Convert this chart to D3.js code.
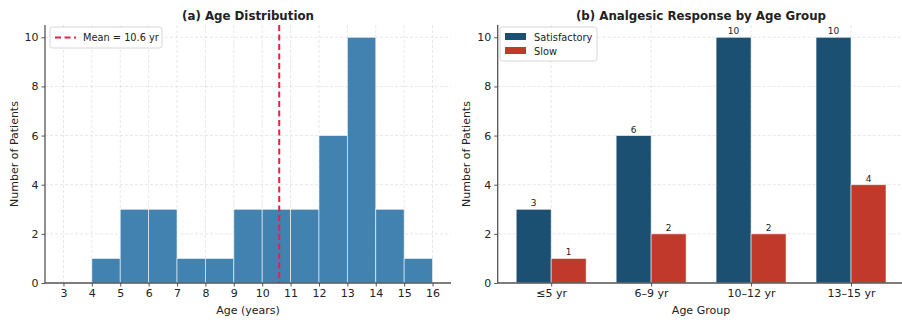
<!DOCTYPE html>
<html>
<head>
<meta charset="utf-8">
<title>Age / Analgesic response</title>
<script src="https://cdn.jsdelivr.net/npm/d3@7"></script>
<style>
  body { margin: 0; background: #fff; }
  text { font-family: "DejaVu Sans", sans-serif; fill: #222; }
</style>
</head>
<body>
<script>
// ---- data ----
var binEdges = [3, 4, 5, 6, 7, 8, 9, 10, 11, 12, 13, 14, 15, 16];
var binCounts = [0, 1, 3, 3, 1, 1, 3, 3, 3, 6, 10, 3, 1];
var meanAge = 10.6;
var ageTicks = [3, 4, 5, 6, 7, 8, 9, 10, 11, 12, 13, 14, 15, 16];

var groups = ["≤5 yr", "6–9 yr", "10–12 yr", "13–15 yr"];
var satisfactory = [3, 6, 10, 10];
var slow = [1, 2, 2, 4];
var seriesNames = ["Satisfactory", "Slow"];
var yTicks = [0, 2, 4, 6, 8, 10];

var colHist = "#4282b0", colSat = "#1b5073", colSlow = "#c0392b", colMean = "#e8213f";

var W = 902, H = 323;
var yTop = 25, yBot = 283;

var svg = d3.select("body").append("svg").attr("width", W).attr("height", H);

var y = d3.scaleLinear().domain([0, 10.5]).range([yBot, yTop]);

function grid(g, x0, x1, xs) {
  g.selectAll(".hg").data(yTicks).enter().append("line")
    .attr("x1", x0).attr("x2", x1)
    .attr("y1", function(d){ return y(d); }).attr("y2", function(d){ return y(d); })
    .attr("stroke", "#ddd").attr("stroke-width", 0.7).attr("stroke-dasharray", "3,2");
  g.selectAll(".vg").data(xs).enter().append("line")
    .attr("x1", function(d){ return d; }).attr("x2", function(d){ return d; })
    .attr("y1", yTop).attr("y2", yBot)
    .attr("stroke", "#ddd").attr("stroke-width", 0.7).attr("stroke-dasharray", "3,2");
}

function axes(g, x0, xAxis) {
  var ya = g.append("g").attr("transform", "translate(" + x0 + ",0)")
    .call(d3.axisLeft(y).tickValues(yTicks).tickSize(3.5).tickPadding(3));
  var xa = g.append("g").attr("transform", "translate(0," + yBot + ")")
    .call(xAxis.tickSize(3.5).tickPadding(3));
  // spine only over the plotted area (no outer tick stubs)
  ya.select(".domain").attr("d", "M0," + yBot + "V" + yTop);
  [ya, xa].forEach(function(a){
    a.select(".domain").attr("stroke", "#555").attr("stroke-width", 1.3);
    a.selectAll(".tick line").attr("stroke", "#555");
    a.selectAll(".tick text").attr("font-size", "11px").attr("fill", "#222")
      .attr("font-family", "DejaVu Sans, sans-serif");
  });
  return xa;
}

// ---------- (a) histogram ----------
var x1 = d3.scaleLinear().domain([2.35, 16.65]).range([45, 451]);
var ga = svg.append("g");
grid(ga, 45, 451, ageTicks.map(function(d){ return x1(d); }));

ga.selectAll(".bin").data(binCounts).enter().append("rect")
  .attr("x", function(d, i){ return x1(binEdges[i]); })
  .attr("width", function(d, i){ return x1(binEdges[i + 1]) - x1(binEdges[i]); })
  .attr("y", function(d){ return y(d); })
  .attr("height", function(d){ return y(0) - y(d); })
  .attr("fill", colHist).attr("stroke", "#fff").attr("stroke-width", 0.8)
  .attr("stroke-opacity", 0.7);

ga.append("line")
  .attr("x1", x1(meanAge)).attr("x2", x1(meanAge))
  .attr("y1", yTop).attr("y2", yBot)
  .attr("stroke", colMean).attr("stroke-width", 2).attr("stroke-dasharray", "6,3.5");

var xa1 = axes(ga, 45, d3.axisBottom(x1).tickValues(ageTicks).tickFormat(d3.format("d")));
xa1.select(".domain").attr("d", "M45,0H451");

ga.append("text").text("(a) Age Distribution")
  .attr("x", 248).attr("y", 20).attr("text-anchor", "middle")
  .attr("font-size", "11.8px").attr("font-weight", "bold");
ga.append("text").text("Age (years)")
  .attr("x", 248).attr("y", 314).attr("text-anchor", "middle").attr("font-size", "11px");
ga.append("text").text("Number of Patients")
  .attr("transform", "translate(18," + ((yTop + yBot) / 2) + ") rotate(-90)")
  .attr("text-anchor", "middle").attr("font-size", "11px");

// legend (a)
var la = ga.append("g").attr("transform", "translate(50,27)");
la.append("rect").attr("width", 112).attr("height", 21).attr("rx", 2.5)
  .attr("fill", "#fff").attr("fill-opacity", 0.85).attr("stroke", "#ccc").attr("stroke-width", 0.8);
la.append("line").attr("x1", 5).attr("x2", 26).attr("y1", 10.5).attr("y2", 10.5)
  .attr("stroke", colMean).attr("stroke-width", 2).attr("stroke-dasharray", "6,3.5");
la.append("text").text("Mean = " + meanAge + " yr").attr("x", 33).attr("y", 14)
  .attr("font-size", "9.8px");

// ---------- (b) grouped bars ----------
var x2 = d3.scaleLinear().domain([-0.535, 3.535]).range([497.7, 904.5]);
var bw = 0.35;
var gb = svg.append("g");
grid(gb, 497.7, 902, groups.map(function(d, i){ return x2(i); }));

var series = [satisfactory, slow];
var cols = [colSat, colSlow];
series.forEach(function(vals, s) {
  var off = s === 0 ? -bw : 0;
  gb.selectAll(".b" + s).data(vals).enter().append("rect")
    .attr("x", function(d, i){ return x2(i + off); })
    .attr("width", x2(bw) - x2(0))
    .attr("y", function(d){ return y(d); })
    .attr("height", function(d){ return y(0) - y(d); })
    .attr("fill", cols[s]).attr("stroke", "#fff").attr("stroke-width", 0.8)
    .attr("stroke-opacity", 0.7);
  gb.selectAll(".l" + s).data(vals).enter().append("text")
    .text(function(d){ return d; })
    .attr("x", function(d, i){ return x2(i + off + bw / 2); })
    .attr("y", function(d){ return y(d) - 3; })
    .attr("text-anchor", "middle").attr("font-size", "9px");
});

var xa2 = axes(gb, 497.7, d3.axisBottom(x2).tickValues([0, 1, 2, 3]).tickFormat(function(d){ return groups[d]; }));
xa2.select(".domain").attr("d", "M497.7,0H902");

gb.append("text").text("(b) Analgesic Response by Age Group")
  .attr("x", 701).attr("y", 20).attr("text-anchor", "middle")
  .attr("font-size", "11.8px").attr("font-weight", "bold");
gb.append("text").text("Age Group")
  .attr("x", 701).attr("y", 314).attr("text-anchor", "middle").attr("font-size", "11px");
gb.append("text").text("Number of Patients")
  .attr("transform", "translate(470," + ((yTop + yBot) / 2) + ") rotate(-90)")
  .attr("text-anchor", "middle").attr("font-size", "11px");

// legend (b)
var lb = gb.append("g").attr("transform", "translate(500,27)");
lb.append("rect").attr("width", 97).attr("height", 34).attr("rx", 2.5)
  .attr("fill", "#fff").attr("fill-opacity", 0.85).attr("stroke", "#ccc").attr("stroke-width", 0.8);
seriesNames.forEach(function(n, i) {
  lb.append("rect").attr("x", 5).attr("y", 6 + i * 14).attr("width", 21).attr("height", 7)
    .attr("fill", cols[i]);
  lb.append("text").text(n).attr("x", 34).attr("y", 13.5 + i * 14).attr("font-size", "9.8px");
});
</script>
</body>
</html>
